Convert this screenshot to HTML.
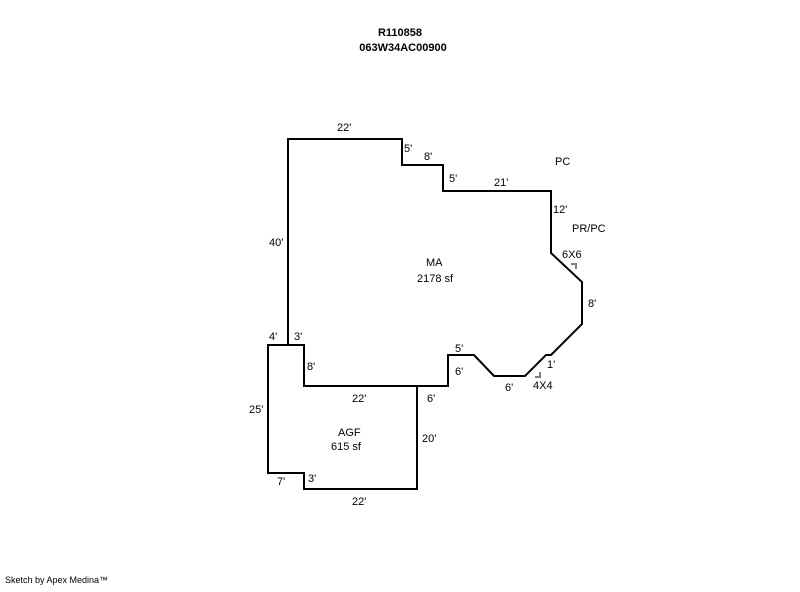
<!DOCTYPE html>
<html><head><style>
body{margin:0;background:#fff;}
svg text{font-family:"Liberation Sans",Arial,sans-serif;font-size:11px;fill:#000;}
</style></head><body>
<svg width="800" height="587" xmlns="http://www.w3.org/2000/svg">
<text x="400" y="36" text-anchor="middle" font-weight="bold" style="font-weight:bold">R110858</text>
<text x="403" y="51" text-anchor="middle" style="font-weight:bold">063W34AC00900</text>
<g fill="none" stroke="#000" stroke-width="2">
<polyline points="288,345 288,139 402,139 402,165 443,165 443,191 551,191 551,253 582,282 582,324 551,355 546,355 525,376 494,376 474,355 448,355 448,386 304,386 304,345 268,345 268,473 304,473 304,489 417,489 417,386"/>
</g>
<g fill="none" stroke="#808080" stroke-width="2">
<polyline points="571,264 576,264 576,269"/>
<polyline points="535,377 540,377 540,372"/>
</g>
<text x="337" y="131">22'</text>
<text x="404" y="152">5'</text>
<text x="424" y="160">8'</text>
<text x="449" y="182">5'</text>
<text x="494" y="186">21'</text>
<text x="555" y="165">PC</text>
<text x="553" y="213">12'</text>
<text x="572" y="232">PR/PC</text>
<text x="562" y="258">6X6</text>
<text x="269" y="246">40'</text>
<text x="426" y="266">MA</text>
<text x="417" y="282">2178 sf</text>
<text x="588" y="307">8'</text>
<text x="269" y="340">4'</text>
<text x="294" y="340">3'</text>
<text x="455" y="352">5'</text>
<text x="547" y="368">1'</text>
<text x="307" y="370">8'</text>
<text x="455" y="375">6'</text>
<text x="505" y="391">6'</text>
<text x="533" y="389">4X4</text>
<text x="352" y="402">22'</text>
<text x="427" y="402">6'</text>
<text x="249" y="413">25'</text>
<text x="338" y="436">AGF</text>
<text x="331" y="450">615 sf</text>
<text x="422" y="442">20'</text>
<text x="277" y="485">7'</text>
<text x="308" y="482">3'</text>
<text x="352" y="505">22'</text>
<text x="5" y="583" style="font-size:9px">Sketch by Apex Medina™</text>
</svg>
</body></html>
